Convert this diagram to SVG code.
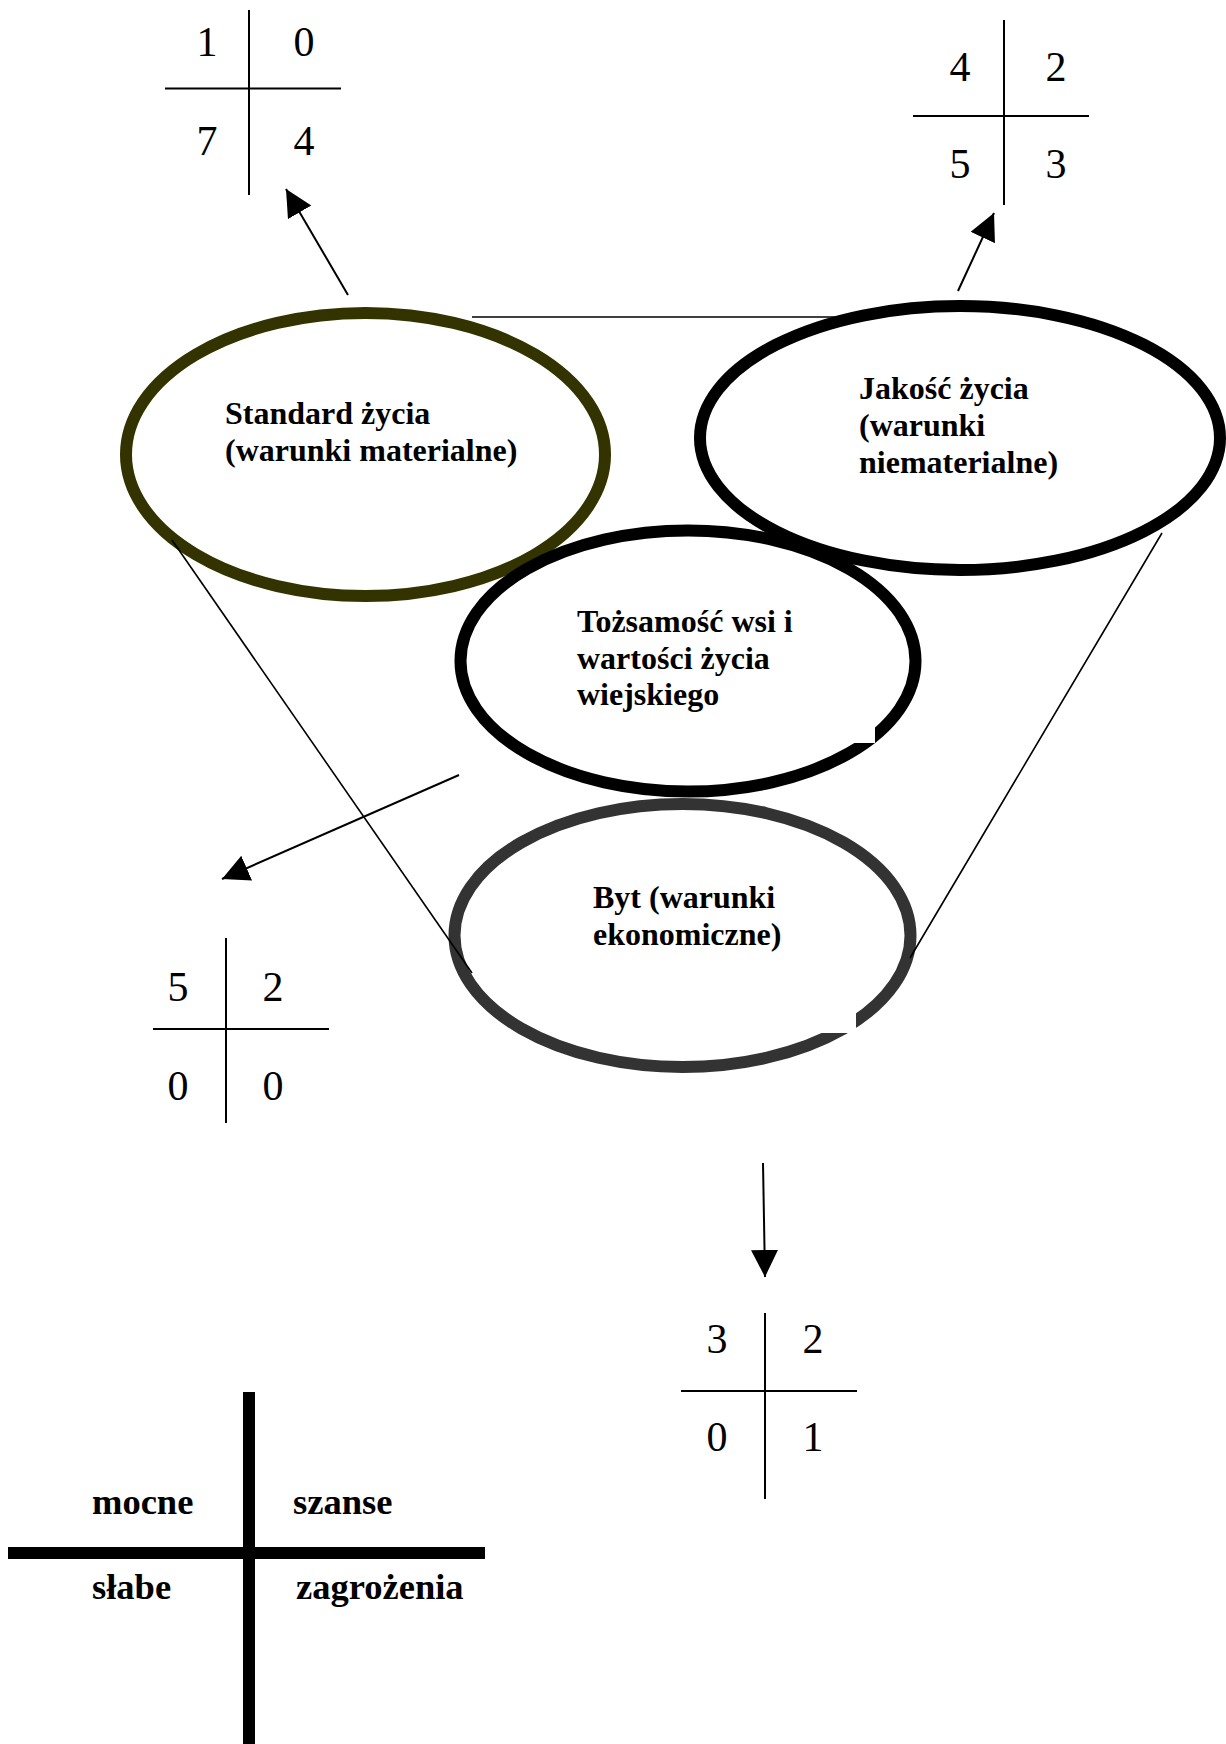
<svg xmlns="http://www.w3.org/2000/svg" width="1226" height="1744" viewBox="0 0 1226 1744">
<style>
.bg{fill:#ffffff}
.ell{fill:#ffffff;stroke-width:12}
.lbl{font-family:"Liberation Serif","Times New Roman",serif;font-weight:bold;font-size:32px;fill:#000}
.num{font-family:"Liberation Serif","Times New Roman",serif;font-size:42px;fill:#000;text-anchor:middle}
.tl{stroke:#000;stroke-width:2;fill:none}
.conn{stroke:#000;stroke-width:1.6;fill:none}
.arr{stroke:#000;stroke-width:2;fill:none;marker-end:url(#ah)}
.swot{stroke:#000;stroke-width:12;fill:none}
.sw{font-family:"Liberation Serif","Times New Roman",serif;font-weight:bold;font-size:36.5px;fill:#000}
</style>
<defs>
<marker id="ah" markerUnits="userSpaceOnUse" markerWidth="28" markerHeight="28" refX="27" refY="13.5" orient="auto" viewBox="0 0 28 28">
<path d="M0,0 L27,13.5 L0,27 z" fill="#000"/>
</marker>
</defs>
<rect class="bg" x="0" y="0" width="1226" height="1744"/>

<g id="connectors-back">
<line class="conn" x1="472" y1="317" x2="860" y2="317"/>
</g>

<g id="node-standard">
<ellipse class="ell" cx="365.5" cy="454.5" rx="239.5" ry="141.5" stroke="#333300" stroke-width="11"/>
<text class="lbl" x="225" y="424">Standard życia</text>
<text class="lbl" x="225" y="461">(warunki materialne)</text>
</g>

<g id="node-jakosc">
<ellipse class="ell" cx="960" cy="438" rx="260" ry="132" stroke="#000"/>
<text class="lbl" x="859" y="399">Jakość życia</text>
<text class="lbl" x="859" y="436">(warunki</text>
<text class="lbl" x="859" y="473">niematerialne)</text>
</g>

<g id="node-tozsamosc">
<ellipse class="ell" cx="688" cy="661" rx="227.5" ry="130.5" stroke="#000"/>
<rect x="570" y="600" width="305" height="143" fill="#fff"/>
<text class="lbl" x="577" y="632">Tożsamość wsi i</text>
<text class="lbl" x="577" y="669">wartości życia</text>
<text class="lbl" x="577" y="705">wiejskiego</text>
</g>

<g id="node-byt">
<ellipse class="ell" cx="682.5" cy="935.5" rx="228" ry="131.5" stroke="#333333"/>
<rect x="560" y="880" width="296" height="153" fill="#fff"/>
<text class="lbl" x="593" y="908">Byt (warunki</text>
<text class="lbl" x="593" y="945">ekonomiczne)</text>
</g>

<g id="table-1">
<line class="tl" x1="249" y1="10" x2="249" y2="195"/>
<line class="tl" x1="165" y1="88.5" x2="341" y2="88.5"/>
<text class="num" x="207" y="56">1</text>
<text class="num" x="304" y="56">0</text>
<text class="num" x="207" y="155">7</text>
<text class="num" x="304" y="155">4</text>
</g>

<g id="table-2">
<line class="tl" x1="1004" y1="20" x2="1004" y2="205"/>
<line class="tl" x1="913" y1="116" x2="1089" y2="116"/>
<text class="num" x="960" y="81">4</text>
<text class="num" x="1056" y="81">2</text>
<text class="num" x="960" y="178">5</text>
<text class="num" x="1056" y="178">3</text>
</g>

<g id="table-3">
<line class="tl" x1="226" y1="938" x2="226" y2="1123"/>
<line class="tl" x1="153" y1="1029" x2="329" y2="1029"/>
<text class="num" x="178" y="1001">5</text>
<text class="num" x="273" y="1001">2</text>
<text class="num" x="178" y="1100">0</text>
<text class="num" x="273" y="1100">0</text>
</g>

<g id="table-4">
<line class="tl" x1="765" y1="1313" x2="765" y2="1499"/>
<line class="tl" x1="681" y1="1391" x2="857" y2="1391"/>
<text class="num" x="717" y="1353">3</text>
<text class="num" x="813" y="1353">2</text>
<text class="num" x="717" y="1451">0</text>
<text class="num" x="813" y="1451">1</text>
</g>

<g id="connectors">
<line class="conn" x1="172" y1="540" x2="472" y2="973"/>
<line class="conn" x1="1162" y1="533" x2="910" y2="958"/>
<line class="arr" x1="348" y1="295" x2="286" y2="189"/>
<line class="arr" x1="958" y1="291" x2="994" y2="213"/>
<line class="arr" x1="459" y1="775" x2="222" y2="879"/>
<line class="arr" x1="763" y1="1163" x2="765" y2="1277"/>
</g>

<g id="swot">
<line class="swot" x1="249" y1="1392" x2="249" y2="1744"/>
<line class="swot" x1="8" y1="1553" x2="485" y2="1553"/>
<text class="sw" x="92" y="1514">mocne</text>
<text class="sw" x="293" y="1514">szanse</text>
<text class="sw" x="92" y="1599">słabe</text>
<text class="sw" x="296" y="1599">zagrożenia</text>
</g>
</svg>
